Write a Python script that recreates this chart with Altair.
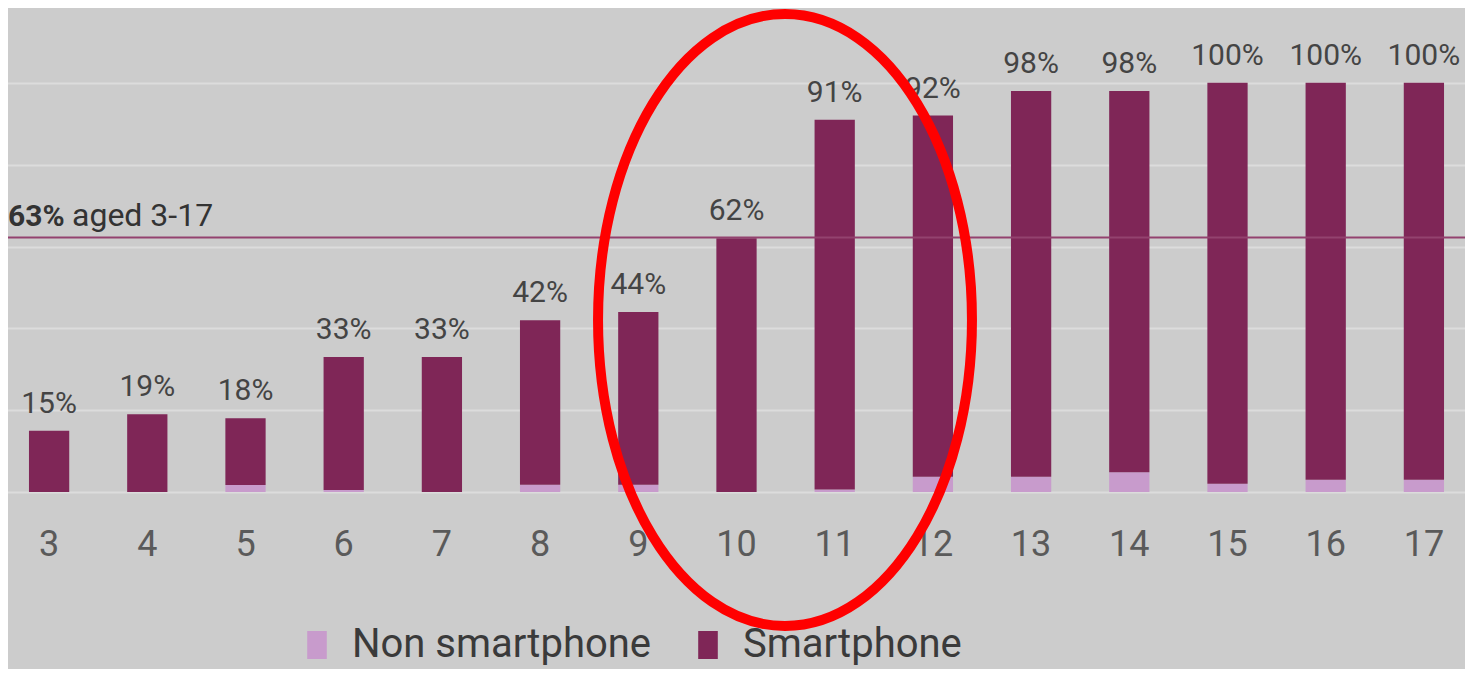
import altair as alt
import pandas as pd

# ---- data ----
ages = [3, 4, 5, 6, 7, 8, 9, 10, 11, 12, 13, 14, 15, 16, 17]
total_pct = [15, 19, 18, 33, 33, 42, 44, 62, 91, 92, 98, 98, 100, 100, 100]
non_smartphone = [0, 0, 1.7, 0.5, 0, 1.8, 1.8, 0, 0.6, 3.7, 3.7, 4.8, 2.0, 3.0, 3.0]
series_names = ["Non smartphone", "Smartphone"]
series_colors = ["#c89bcc", "#7f2657"]
avg_value = 62.2
avg_bold = "63%"
avg_text = "aged 3-17"
grid_values = [0, 20, 40, 60, 80, 100]

FONT = "Roboto"

rows = []
for a, t, n in zip(ages, total_pct, non_smartphone):
    rows.append({"age": str(a), "series": series_names[0], "value": n, "ord": 0})
    rows.append({"age": str(a), "series": series_names[1], "value": t - n, "ord": 1})
bars_df = pd.DataFrame(rows)
labels_df = pd.DataFrame({"age": [str(a) for a in ages], "total": total_pct,
                          "label": [f"{t}%" for t in total_pct]})

age_order = [str(a) for a in ages]

x_scale = alt.Scale(domain=age_order, range=[-8, 1465], paddingInner=0.59, paddingOuter=0.295)
y_scale = alt.Scale(domain=[0, 118.3], nice=False, zero=True)

bars = alt.Chart(bars_df).mark_bar(strokeWidth=0).encode(
    x=alt.X("age:N", sort=age_order, scale=x_scale,
            axis=alt.Axis(title=None, labelAngle=0, labelFontSize=36, labelColor="#5a5a5a",
                          labelFont=FONT, labelPadding=35, ticks=False, domain=False, grid=False)),
    y=alt.Y("value:Q", stack="zero", scale=y_scale,
            axis=alt.Axis(title=None, values=grid_values, labels=False, ticks=False, domain=False,
                          grid=True, gridColor="#dcdcdc", gridWidth=2)),
    color=alt.Color("series:N", scale=alt.Scale(domain=series_names, range=series_colors),
                    legend=alt.Legend(title=None, orient="none", direction="horizontal",
                                      legendX=289, legendY=617, padding=0,
                                      labelFontSize=40, labelFont=FONT, labelColor="#3a3a3a",
                                      labelOffset=15, columnPadding=36, labelLimit=600,
                                      symbolType="M-0.7,-1L0.7,-1L0.7,1L-0.7,1Z",
                                      symbolSize=784, symbolStrokeWidth=0)),
    order=alt.Order("ord:Q", sort="ascending"),
)

labels = alt.Chart(labels_df).mark_text(
    baseline="alphabetic", dy=-18, fontSize=30, font=FONT, color="#444444"
).encode(
    x=alt.X("age:N", sort=age_order, scale=x_scale),
    y=alt.Y("total:Q", scale=y_scale),
    text="label:N",
)

ref_df = pd.DataFrame({"v": [avg_value]})
rule = alt.Chart(ref_df).mark_rule(color="#93426f", strokeWidth=2).encode(
    y=alt.Y("v:Q", scale=y_scale)
)
ref_bold = alt.Chart(ref_df).mark_text(
    align="left", baseline="alphabetic", dy=-12, fontSize=30, font=FONT,
    fontWeight="bold", color="#333333"
).encode(x=alt.value(0), y=alt.Y("v:Q", scale=y_scale), text=alt.value(avg_bold))
ref_norm = alt.Chart(ref_df).mark_text(
    align="left", baseline="alphabetic", dy=-12, fontSize=32, font=FONT, color="#333333"
).encode(x=alt.value(64), y=alt.Y("v:Q", scale=y_scale), text=alt.value(avg_text))

ellipse_path = ("M0.611,0 C0.611,0.5523 0.3375,1 0,1 C-0.3375,1 -0.611,0.5523 -0.611,0 "
                "C-0.611,-0.5523 -0.3375,-1 0,-1 C0.3375,-1 0.611,-0.5523 0.611,0 Z")
ellipse = alt.Chart(pd.DataFrame({"k": [1]})).mark_point(
    shape=ellipse_path, filled=False, stroke="#ff0000", strokeWidth=10, opacity=1, size=374544
).encode(x=alt.value(777), y=alt.value(312))

chart = alt.layer(bars, labels, rule, ref_bold, ref_norm, ellipse).properties(
    width=1457, height=484,
    padding={"left": 0, "top": 0, "right": 0, "bottom": 177},
    autosize=alt.AutoSizeParams(type="none"),
    background="#cccccc",
).configure_view(stroke=None).configure_text(font=FONT)

chart.save("out.html", embed_options={"renderer": "svg", "actions": False})
